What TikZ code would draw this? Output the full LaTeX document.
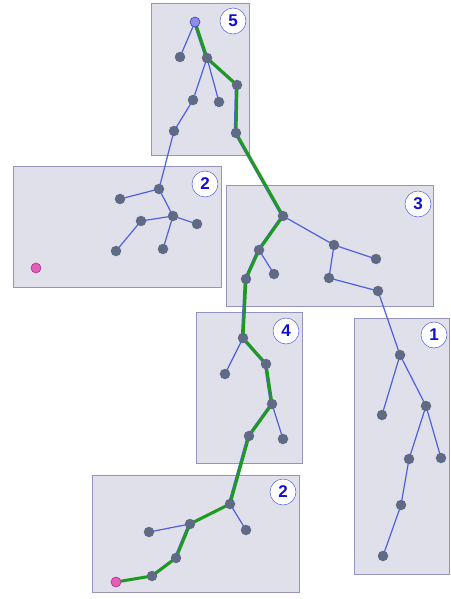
\documentclass[tikz,border=0pt]{standalone}
\usepackage{fontspec}
\setmainfont{Liberation Sans}
\usepackage{xcolor}
\usepackage{tikz}
\definecolor{boxbg}{HTML}{E0E0EA}
\definecolor{boxln}{HTML}{9494BC}
\definecolor{vtx}{HTML}{5F6B85}
\definecolor{edge}{HTML}{4F5FE0}
\definecolor{route}{HTML}{1E9A1E}
\definecolor{pink}{HTML}{E060B8}
\definecolor{pinkln}{HTML}{B0308C}
\definecolor{rootc}{HTML}{8C8CEC}
\definecolor{rootln}{HTML}{4040A0}
\definecolor{numc}{HTML}{1010D0}
\tikzset{
  region/.style={draw=boxln, fill=boxbg, line width=0.8pt},
  tree/.style={draw=edge, line width=1.2pt},
  path/.style={draw=route, line width=3pt, line cap=round, line join=round},
  dot/.style={circle, fill=vtx, inner sep=0pt, minimum size=10.5pt},
  start/.style={circle, fill=rootc, draw=rootln, line width=0.6pt, inner sep=0pt, minimum size=10pt},
  goal/.style={circle, fill=pink, draw=pinkln, line width=0.6pt, inner sep=0pt, minimum size=10pt},
  badge/.style={circle, draw=edge, fill=white, line width=0.5pt, inner sep=0pt, minimum size=26pt,
    text=numc, font=\fontsize{17}{17}\selectfont\bfseries},
}

\begin{document}
\begin{tikzpicture}[x=1pt, y=-1pt]
  \useasboundingbox (0,0) rectangle (450,599);
  % regions
  \draw[region] (151,3) rectangle (249,155);
  \draw[region] (13,166) rectangle (221,287);
  \draw[region] (226,185) rectangle (433,306);
  \draw[region] (196,312) rectangle (302,463);
  \draw[region] (354,318) rectangle (449.5,574);
  \draw[region] (92,475) rectangle (299,592);
  \node[badge] (b5) at (233,21) {5};
  \node[badge] (b2a) at (205,184) {2};
  \node[badge] (b3) at (418,204) {3};
  \node[badge] (b4) at (286,331) {4};
  \node[badge] (b1) at (434,335) {1};
  \node[badge] (b2b) at (283,492) {2};
  % vertices
  \coordinate (r0) at (195,22);
  \coordinate (r1) at (180,57);
  \coordinate (r2) at (207,58);
  \coordinate (r3) at (237,85);
  \coordinate (r4) at (193,100);
  \coordinate (r5) at (219,102);
  \coordinate (r6) at (174,131);
  \coordinate (r7) at (236,133);
  \coordinate (h1) at (159,189);
  \coordinate (h2) at (120,199);
  \coordinate (h3) at (173,216);
  \coordinate (h4) at (141,221);
  \coordinate (h5) at (197,224);
  \coordinate (h6) at (116,251);
  \coordinate (h7) at (163,249);
  \coordinate (p1) at (283,216);
  \coordinate (p2) at (334,245);
  \coordinate (p3) at (376,259);
  \coordinate (p4) at (259,250);
  \coordinate (p5) at (274,274);
  \coordinate (p6) at (329,278);
  \coordinate (p7) at (378,291);
  \coordinate (p8) at (246,279);
  \coordinate (q1) at (243,338);
  \coordinate (q2) at (225,374);
  \coordinate (q3) at (266,364);
  \coordinate (q4) at (272,404);
  \coordinate (q5) at (283,439);
  \coordinate (q6) at (249,436);
  \coordinate (t1) at (400,355);
  \coordinate (t2) at (382,415);
  \coordinate (t3) at (426,406);
  \coordinate (t4) at (409,459);
  \coordinate (t5) at (441,458);
  \coordinate (t6) at (401,505);
  \coordinate (t7) at (383,556);
  \coordinate (s1) at (230,504);
  \coordinate (s2) at (246,530);
  \coordinate (s3) at (190,524);
  \coordinate (s4) at (149,532);
  \coordinate (s5) at (176,558);
  \coordinate (s6) at (152,576);
  \coordinate (s7) at (116,582);
  % tree edges
  \draw[tree, transform canvas={xshift=-1.6pt}] (r0) -- (r2) -- (r3) -- (r7) -- (p1) -- (p4) -- (p8)
    -- (q1) -- (q3) -- (q4) -- (q6) -- (s1) -- (s3) -- (s5) -- (s6) -- (s7);
  \draw[tree] (r0) -- (r1);
  \draw[tree] (r2) -- (r4) -- (r6) -- (h1) -- (h2);
  \draw[tree] (r2) -- (r5);
  \draw[tree] (h1) -- (h3) -- (h4) -- (h6);
  \draw[tree] (h3) -- (h5);
  \draw[tree] (h3) -- (h7);
  \draw[tree] (p1) -- (p2) -- (p3);
  \draw[tree] (p2) -- (p6) -- (p7) -- (t1) -- (t2);
  \draw[tree] (p4) -- (p5);
  \draw[tree] (q1) -- (q2);
  \draw[tree] (q4) -- (q5);
  \draw[tree] (t1) -- (t3) -- (t4) -- (t6) -- (t7);
  \draw[tree] (t3) -- (t5);
  \draw[tree] (s1) -- (s2);
  \draw[tree] (s3) -- (s4);
  % found route
  \draw[path] (r0) -- (r2) -- (r3) -- (r7) -- (p1) -- (p4) -- (p8) -- (q1) -- (q3)
    -- (q4) -- (q6) -- (s1) -- (s3) -- (s5) -- (s6) -- (s7);
  % nodes on top
  \foreach \v in {r1,r2,r3,r4,r5,r6,r7,h1,h2,h3,h4,h5,h6,h7,p1,p2,p3,p4,p5,p6,p7,p8,
    q1,q2,q3,q4,q5,q6,t1,t2,t3,t4,t5,t6,t7,s1,s2,s3,s4,s5,s6}
    \node[dot] (n-\v) at (\v) {};
  \node[start] (n-r0) at (r0) {};
  \node[goal] (n-h8) at (36,268) {};
  \node[goal] (n-s7) at (s7) {};
\end{tikzpicture}
\end{document}
